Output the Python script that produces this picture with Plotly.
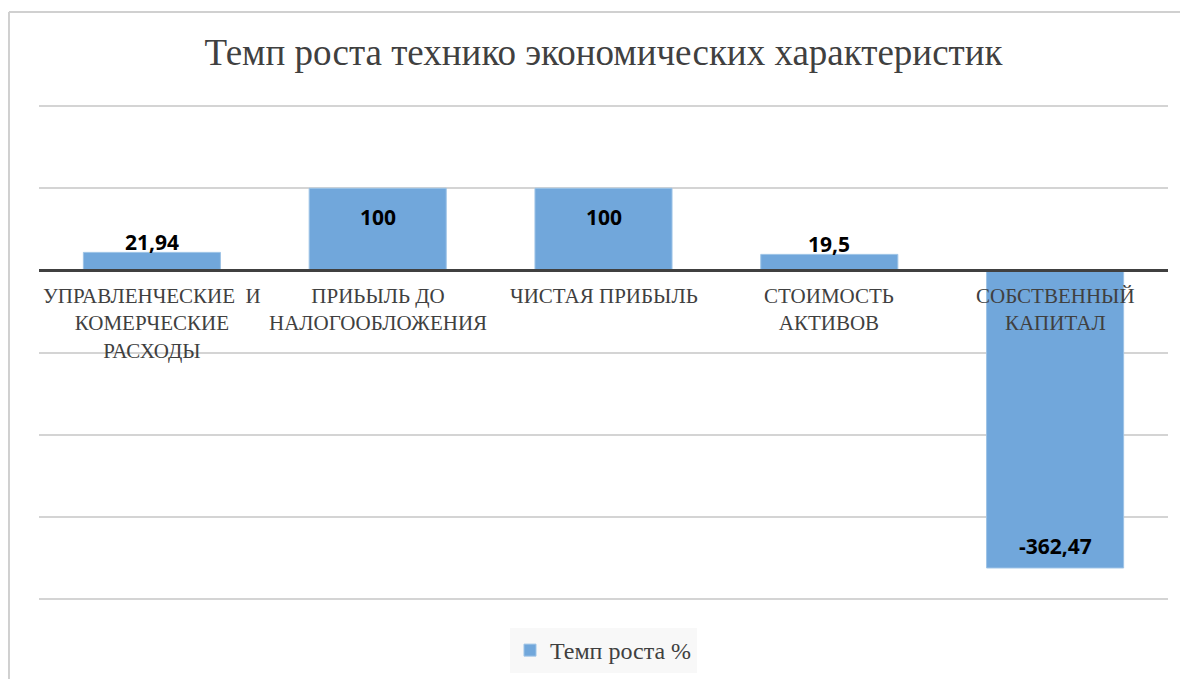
import plotly.graph_objects as go

categories = [
    "УПРАВЛЕНЧЕСКИЕ  И<br>КОМЕРЧЕСКИЕ<br>РАСХОДЫ",
    "ПРИЬЫЛЬ ДО<br>НАЛОГООБЛОЖЕНИЯ",
    "ЧИСТАЯ ПРИБЫЛЬ",
    "СТОИМОСТЬ<br>АКТИВОВ",
    "СОБСТВЕННЫЙ<br>КАПИТАЛ",
]
values = [21.94, 100, 100, 19.5, -362.47]
series_name = "Темп роста %"
title_text = "Темп роста технико экономических характеристик"
label_modes = ["outside", "inside", "inside", "outside", "inside"]

ids = list(range(len(categories)))

def fmt(v):
    return f"{v:g}".replace(".", ",")

fig = go.Figure()
fig.add_trace(go.Bar(
    x=ids, y=values, name=series_name,
    marker=dict(color="#71A7DB", line=dict(color="#9DC3E6", width=1)),
    hoverinfo="skip",
))

lbl_font = dict(family="Open Sans", size=21, color="#000000", weight="bold")
annotations = []
for i, (v, mode) in enumerate(zip(values, label_modes)):
    if mode == "outside":
        annotations.append(dict(x=i, y=v, xref="x", yref="y", text=fmt(v),
                                showarrow=False, yanchor="middle", yshift=10,
                                font=lbl_font))
    else:
        shift = -29 if v > 0 else 22
        annotations.append(dict(x=i, y=v, xref="x", yref="y", text=fmt(v),
                                showarrow=False, yanchor="middle", yshift=shift,
                                font=lbl_font))
for i, c in enumerate(categories):
    annotations.append(dict(x=i, y=0, xref="x", yref="y", text=c, showarrow=False,
                            yanchor="top", yshift=-12, align="center",
                            font=dict(family="Liberation Serif", size=21, color="#404040")))

shapes = [
    dict(type="line", xref="paper", yref="y", x0=0, x1=1, y0=0, y1=0,
         line=dict(color="#404040", width=3), layer="above"),
    dict(type="line", xref="paper", yref="paper", x0=-0.0266, x1=-0.0266, y0=-0.3, y1=1.1690,
         line=dict(color="#d0d0d0", width=2)),
    dict(type="line", xref="paper", yref="paper", x0=-0.0266, x1=1.1, y0=1.1690, y1=1.1690,
         line=dict(color="#d0d0d0", width=2)),
]

fig.update_layout(
    width=1180, height=671,
    margin=dict(l=31, r=20, t=90, b=72, autoexpand=False),
    paper_bgcolor="white", plot_bgcolor="white",
    title=dict(text=title_text, x=0.5, xref="paper", xanchor="center",
               y=1 - 44 / 671, yref="container", yanchor="middle",
               font=dict(family="Liberation Serif", size=37, color="#404040")),
    bargap=0.393,
    showlegend=True,
    legend=dict(orientation="h", x=0.5, xanchor="center", xref="paper",
                y=-0.0413, yanchor="top", bgcolor="#f8f8f8",
                font=dict(family="Liberation Serif", size=24, color="#404040"),
                itemwidth=30),
    xaxis=dict(range=[-0.5, 4.5], showticklabels=False, showgrid=False,
               zeroline=False, showline=False, ticks=""),
    yaxis=dict(range=[-410, 210], dtick=100, tick0=0, showticklabels=False,
               showgrid=True, gridcolor="#d4d4d4", gridwidth=1.5,
               zeroline=False, showline=False, ticks=""),
    annotations=annotations,
    shapes=shapes,
)

fig.write_html("out.html")
